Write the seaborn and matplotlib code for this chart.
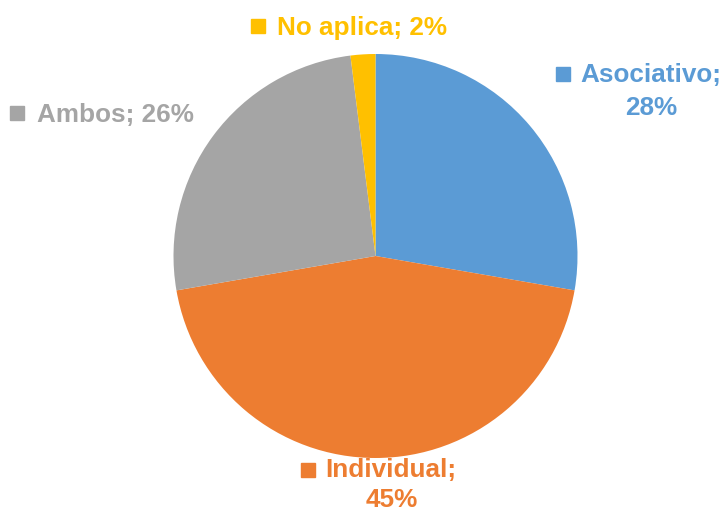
import seaborn as sns
import matplotlib.pyplot as plt

# data
categories = ["Asociativo", "Individual", "Ambos", "No aplica"]
values = [28, 45, 26, 2]
colors = ["#5B9BD5", "#ED7D31", "#A5A5A5", "#FFC000"]

sns.set_theme(style="white")
plt.rcParams["font.family"] = ["Liberation Sans", "DejaVu Sans"]

W, H = 728, 512
fig = plt.figure(figsize=(W / 100, H / 100), dpi=100)
# pie centre at (375.5, 256) px, radius 202 px
ax = fig.add_axes([173.5 / W, 54 / H, 404 / W, 404 / H])
ax.pie(values, colors=sns.color_palette(colors), startangle=90, counterclock=False,
       radius=1, wedgeprops=dict(linewidth=0))
ax.set_xlim(-1, 1)
ax.set_ylim(-1, 1)
ax.set_aspect("equal")
ax.axis("off")

def px(x, y):
    return x / W, 1 - y / H

fs = 18.8
# label layout in pixels: marker centre, then text lines (x, baseline, ha)
layout = {
    "Asociativo": ((562.5, 74), [(650.5, 82, "center", "Asociativo;"), (651, 115, "center", "{}%")]),
    "Individual": ((307.5, 470), [(391, 477, "center", "Individual;"), (391.5, 507, "center", "{}%")]),
    "Ambos": ((17, 113), [(37, 122, "left", "Ambos; {}%")]),
    "No aplica": ((257.5, 25.5), [(277, 35, "left", "No aplica; {}%")]),
}

for cat, val, col in zip(categories, values, colors):
    (mx, my), lines = layout[cat]
    fig.lines.append(plt.Line2D([mx / W], [1 - my / H], marker="s", markersize=9.5,
                                color=col, linestyle="none", transform=fig.transFigure))
    for tx, ty, ha, s in lines:
        x, y = px(tx, ty)
        fig.text(x, y, s.format(val), color=col, fontsize=fs, fontweight="bold",
                 ha=ha, va="baseline")

fig.savefig("out.png", dpi=100)
